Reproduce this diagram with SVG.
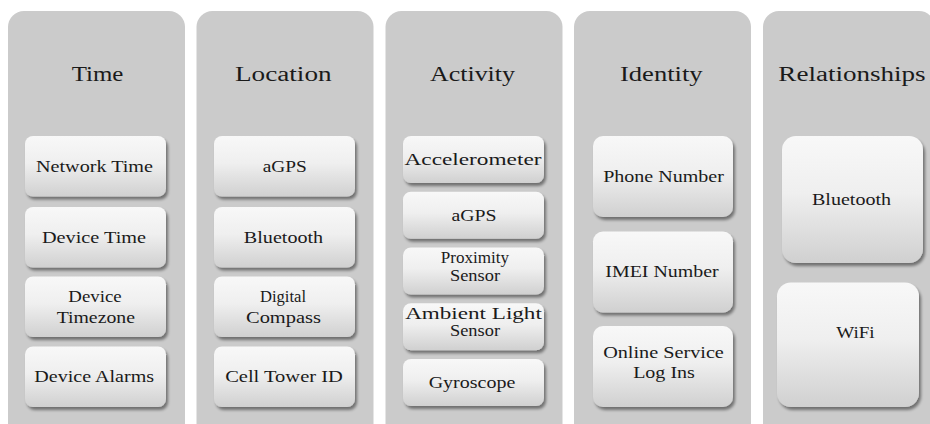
<svg xmlns="http://www.w3.org/2000/svg" width="930" height="424" viewBox="0 0 930 424">
<defs>
<linearGradient id="boxg" x1="0" y1="0" x2="0" y2="1">
<stop offset="0" stop-color="#f8f8f8"/>
<stop offset="0.45" stop-color="#efefef"/>
<stop offset="1" stop-color="#d0d0d0"/>
</linearGradient>
<filter id="sh" x="-10%" y="-10%" width="125%" height="130%">
<feGaussianBlur in="SourceAlpha" stdDeviation="1.8"/>
<feOffset dx="1.5" dy="3" result="b"/>
<feComponentTransfer><feFuncA type="linear" slope="0.45"/></feComponentTransfer>
<feMerge><feMergeNode/><feMergeNode in="SourceGraphic"/></feMerge>
</filter>
</defs>
<style>
.panel{fill:#cbcbcb}
.box{fill:url(#boxg);filter:url(#sh)}
.t{font-family:"Liberation Serif","Times New Roman",serif;fill:#1a1a1a;text-anchor:middle}
.h{font-size:20px}
.b{font-size:16px}
</style>
<rect width="930" height="424" fill="#ffffff"/>

<g id="col-time">
<rect class="panel" x="8" y="11" width="177" height="430" rx="16"/>
<text class="t h" x="97.5" y="81" textLength="51.7" lengthAdjust="spacingAndGlyphs">Time</text>
<g id="network-time"><rect class="box" x="25" y="136" width="141" height="60.5" rx="8"/><text class="t b" x="94.5" y="172" textLength="117" lengthAdjust="spacingAndGlyphs">Network Time</text></g>
<g id="device-time"><rect class="box" x="25" y="207" width="141" height="60.5" rx="8"/><text class="t b" x="94" y="242.7" textLength="104" lengthAdjust="spacingAndGlyphs">Device  Time</text></g>
<g id="device-timezone"><rect class="box" x="25" y="276.5" width="141" height="60.5" rx="8"/><text class="t b" x="95" y="301.7" textLength="53.3" lengthAdjust="spacingAndGlyphs">Device</text><text class="t b" x="95.8" y="323" textLength="78.3" lengthAdjust="spacingAndGlyphs">Timezone</text></g>
<g id="device-alarms"><rect class="box" x="25" y="346.5" width="141" height="60.5" rx="8"/><text class="t b" x="94.2" y="382" textLength="119.7" lengthAdjust="spacingAndGlyphs">Device  Alarms</text></g>
</g>

<g id="col-location">
<rect class="panel" x="196.5" y="11" width="177" height="430" rx="16"/>
<text class="t h" x="283.3" y="81" textLength="96.7" lengthAdjust="spacingAndGlyphs">Location</text>
<g id="loc-agps"><rect class="box" x="214" y="136" width="141" height="60.5" rx="8"/><text class="t b" x="284.7" y="172" textLength="44" lengthAdjust="spacingAndGlyphs">aGPS</text></g>
<g id="loc-bluetooth"><rect class="box" x="214" y="207" width="141" height="60.5" rx="8"/><text class="t b" x="283.5" y="242.7" textLength="79.3" lengthAdjust="spacingAndGlyphs">Bluetooth</text></g>
<g id="digital-compass"><rect class="box" x="214" y="276.5" width="141" height="60.5" rx="8"/><text class="t b" x="283" y="301.7" textLength="46" lengthAdjust="spacingAndGlyphs">Digital</text><text class="t b" x="283.5" y="322.8" textLength="75" lengthAdjust="spacingAndGlyphs">Compass</text></g>
<g id="cell-tower-id"><rect class="box" x="214" y="346.5" width="141" height="60.5" rx="8"/><text class="t b" x="284" y="382" textLength="117.7" lengthAdjust="spacingAndGlyphs">Cell  Tower ID</text></g>
</g>

<g id="col-activity">
<rect class="panel" x="385.5" y="11" width="177" height="430" rx="16"/>
<text class="t h" x="472.5" y="81" textLength="85" lengthAdjust="spacingAndGlyphs">Activity</text>
<g id="accelerometer"><rect class="box" x="403" y="136" width="141" height="47" rx="8"/><text class="t b" x="473" y="165" textLength="137" lengthAdjust="spacingAndGlyphs">Accelerometer</text></g>
<g id="act-agps"><rect class="box" x="403" y="191.75" width="141" height="47" rx="8"/><text class="t b" x="474" y="220.75" textLength="45" lengthAdjust="spacingAndGlyphs">aGPS</text></g>
<g id="proximity-sensor"><rect class="box" x="403" y="247.5" width="141" height="47" rx="8"/><text class="t b" x="475" y="263" textLength="68.3" lengthAdjust="spacingAndGlyphs">Proximity</text><text class="t b" x="475" y="280.5" textLength="50" lengthAdjust="spacingAndGlyphs">Sensor</text></g>
<g id="ambient-light-sensor"><rect class="box" x="403" y="303.25" width="141" height="47" rx="8"/><text class="t b" x="473.5" y="318.8" textLength="136.7" lengthAdjust="spacingAndGlyphs">Ambient Light</text><text class="t b" x="475" y="336" textLength="50" lengthAdjust="spacingAndGlyphs">Sensor</text></g>
<g id="gyroscope"><rect class="box" x="403" y="359" width="141" height="47" rx="8"/><text class="t b" x="472" y="388" textLength="86.7" lengthAdjust="spacingAndGlyphs">Gyroscope</text></g>
</g>

<g id="col-identity">
<rect class="panel" x="574" y="11" width="177" height="430" rx="16"/>
<text class="t h" x="661.3" y="81" textLength="82.7" lengthAdjust="spacingAndGlyphs">Identity</text>
<g id="phone-number"><rect class="box" x="593" y="136" width="140" height="81" rx="10"/><text class="t b" x="663.5" y="182" textLength="120.7" lengthAdjust="spacingAndGlyphs">Phone Number</text></g>
<g id="imei-number"><rect class="box" x="593" y="231.5" width="140" height="81" rx="10"/><text class="t b" x="662" y="277" textLength="113.3" lengthAdjust="spacingAndGlyphs">IMEI Number</text></g>
<g id="online-service"><rect class="box" x="593" y="326" width="140" height="81" rx="10"/><text class="t b" x="663.5" y="358.3" textLength="120.7" lengthAdjust="spacingAndGlyphs">Online  Service</text><text class="t b" x="664" y="378.3" textLength="61.7" lengthAdjust="spacingAndGlyphs">Log Ins</text></g>
</g>

<g id="col-relationships">
<rect class="panel" x="763" y="11" width="172" height="430" rx="16"/>
<text class="t h" x="852" y="81" textLength="147.3" lengthAdjust="spacingAndGlyphs">Relationships</text>
<g id="rel-bluetooth"><rect class="box" x="782" y="136" width="141" height="127" rx="14"/><text class="t b" x="851.5" y="204.5" textLength="79" lengthAdjust="spacingAndGlyphs">Bluetooth</text></g>
<g id="wifi"><rect class="box" x="777" y="282.5" width="142" height="124.5" rx="14"/><text class="t b" x="855.5" y="337.5" textLength="38.3" lengthAdjust="spacingAndGlyphs">WiFi</text></g>
</g>

<g id="connectors"></g>
</svg>
